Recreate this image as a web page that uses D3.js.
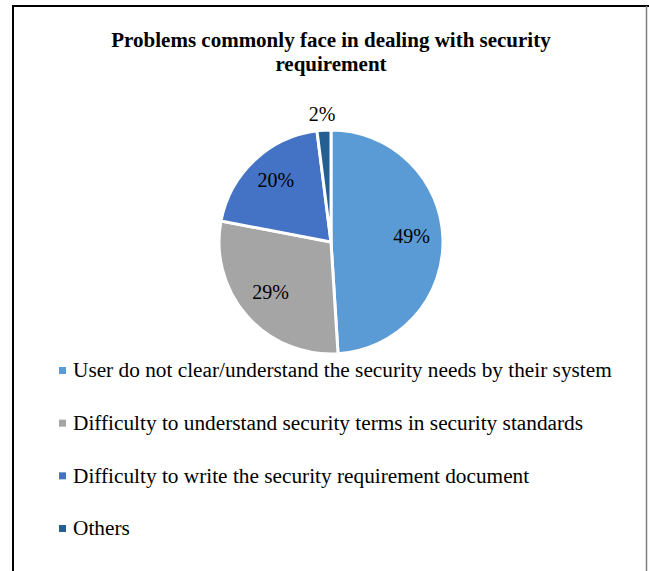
<!DOCTYPE html>
<html>
<head>
<meta charset="utf-8">
<script src="https://cdn.jsdelivr.net/npm/d3@7"></script>
<style>
  body { margin: 0; background: #fff; }
</style>
</head>
<body>
<div id="chart"></div>
<script>
// data
const categories = [
  "User do not clear/understand the security needs by their system",
  "Difficulty to understand security terms in security standards",
  "Difficulty to write the security requirement document",
  "Others"
];
const values = [49, 29, 20, 2];
const colors = ["#5b9bd5", "#a5a5a5", "#4472c4", "#255e91"];
const titleLines = ["Problems commonly face in dealing with security", "requirement"];

const fontFamily = "'Times New Roman', 'Liberation Serif', 'DejaVu Serif', serif";
const width = 649, height = 571;
const svg = d3.select("#chart").append("svg")
    .attr("width", width)
    .attr("height", height)
    .style("font-family", fontFamily);

// frame
svg.append("path")
    .attr("d", `M13,${height} L13,6 L${width},6`)
    .attr("fill", "none")
    .attr("stroke", "#000")
    .attr("stroke-width", 2);
svg.append("line")
    .attr("x1", 646.5).attr("x2", 646.5)
    .attr("y1", 6).attr("y2", height)
    .attr("stroke", "#808080")
    .attr("stroke-width", 1.5);

// title
svg.append("text")
    .attr("x", 331)
    .attr("y", 47)
    .attr("text-anchor", "middle")
    .style("font-weight", "bold")
    .style("font-size", "21px")
    .selectAll("tspan")
    .data(titleLines)
    .enter()
    .append("tspan")
    .attr("x", 331)
    .attr("dy", (d, i) => i === 0 ? 0 : 24)
    .text(d => d);

// pie
const cx = 331, cy = 242, r = 112;
const pie = d3.pie().sort(null).value(d => d);
const arcs = pie(values);
const arc = d3.arc().innerRadius(0).outerRadius(r);
const labelArc = d3.arc().innerRadius(r * 0.72).outerRadius(r * 0.72);

const g = svg.append("g").attr("transform", `translate(${cx},${cy})`);

g.selectAll("path")
    .data(arcs)
    .enter()
    .append("path")
    .attr("d", arc)
    .attr("fill", (d, i) => colors[i])
    .attr("stroke", "#fff")
    .attr("stroke-width", 3)
    .attr("stroke-linejoin", "round");

// percentage labels (small slice gets its label outside)
g.selectAll("text.pct")
    .data(arcs)
    .enter()
    .append("text")
    .attr("class", "pct")
    .attr("text-anchor", "middle")
    .style("font-size", "20px")
    .attr("transform", d => {
        if (d.data < 5) {
            const a = (d.startAngle + d.endAngle) / 2;
            return `translate(${Math.sin(a) * (r + 16) - 1},${-Math.cos(a) * (r + 16)})`;
        }
        const [x, y] = labelArc.centroid(d);
        return `translate(${x},${y - 3})`;
    })
    .attr("dy", "0.35em")
    .text(d => d.data + "%");

// legend
const legendY = d3.scalePoint()
    .domain(categories)
    .range([370, 528]);

const legend = svg.append("g");
const item = legend.selectAll("g")
    .data(categories)
    .enter()
    .append("g")
    .attr("transform", d => `translate(0,${legendY(d)})`);

item.append("rect")
    .attr("x", 59)
    .attr("y", -3)
    .attr("width", 7)
    .attr("height", 7)
    .attr("fill", (d, i) => colors[i]);

item.append("text")
    .attr("x", 73)
    .attr("dy", "0.35em")
    .style("font-size", "21.3px")
    .text(d => d);
</script>
</body>
</html>
